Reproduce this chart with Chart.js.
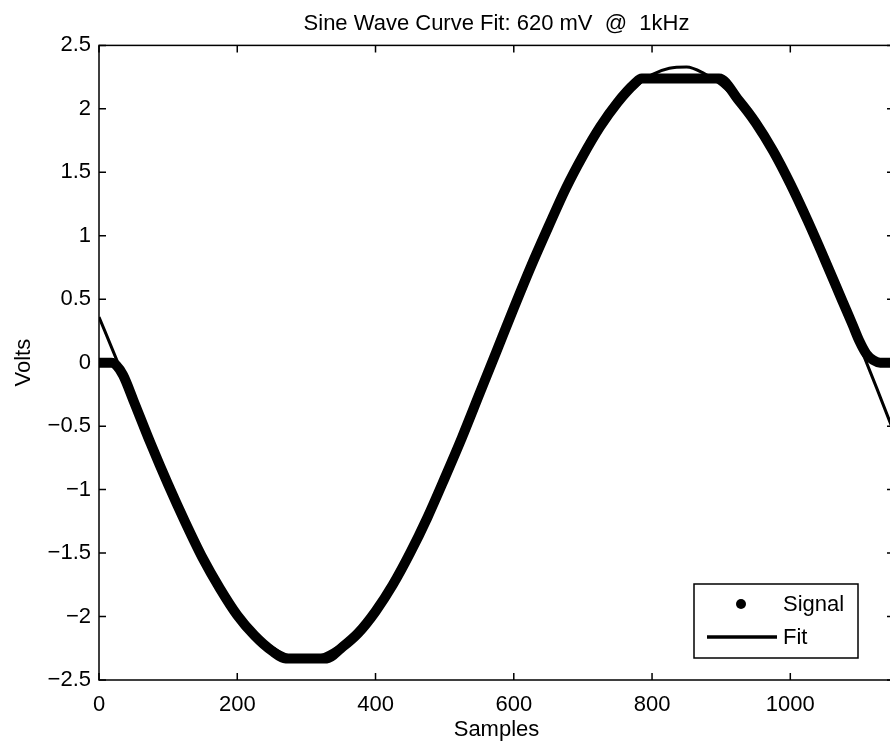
<!DOCTYPE html>
<html>
<head>
<meta charset="utf-8">
<script src="https://cdn.jsdelivr.net/npm/chart.js@4/dist/chart.umd.min.js"></script>
<style>
  html, body { margin: 0; padding: 0; background: #fff; overflow: hidden; }
</style>
</head>
<body>
<canvas id="myChart" width="900" height="746"></canvas>
<script>
	// signal samples
	var signalX = [0, 10, 18, 25, 35, 50, 75, 100, 125, 150, 175, 200, 225, 250, 270, 300, 330, 350, 375, 400,
		425, 450, 475, 500, 525, 550, 575, 600, 625, 650, 675, 700, 725, 750, 775, 785, 800, 825, 850, 875,
		897, 925, 950, 975, 1000, 1025, 1050, 1075, 1090, 1100, 1110, 1120, 1130, 1150];
	var signalY = [0, 0, 0, -0.02, -0.10, -0.30, -0.64, -0.96, -1.26, -1.54, -1.78, -1.99, -2.15, -2.27, -2.33, -2.33, -2.33, -2.25, -2.13, -1.96,
		-1.75, -1.50, -1.22, -0.91, -0.59, -0.25, 0.09, 0.43, 0.76, 1.07, 1.37, 1.63, 1.86, 2.05, 2.20, 2.24, 2.24, 2.24, 2.24, 2.24,
		2.24, 2.07, 1.89, 1.67, 1.41, 1.12, 0.81, 0.49, 0.30, 0.17, 0.07, 0.02, 0, 0];

	// fitted curve
	var fitX = [0, 25, 50, 75, 100, 125, 150, 175, 200, 225, 250, 275, 300, 325, 350, 375, 400, 425, 450, 475,
		500, 525, 550, 575, 600, 625, 650, 675, 700, 725, 750, 775, 800, 825, 850, 875, 900, 925, 950, 975,
		1000, 1025, 1050, 1075, 1100, 1125, 1150];
	var fitY = [0.36, 0.03, -0.31, -0.64, -0.96, -1.25, -1.53, -1.76, -1.97, -2.13, -2.24, -2.31, -2.33, -2.30, -2.22, -2.10, -1.93, -1.72, -1.48, -1.20,
		-0.90, -0.58, -0.25, 0.09, 0.42, 0.75, 1.06, 1.35, 1.61, 1.84, 2.02, 2.17, 2.27, 2.32, 2.33, 2.28, 2.19, 2.05, 1.87, 1.64,
		1.39, 1.10, 0.80, 0.47, 0.14, -0.20, -0.55];

	var xTicks = [0, 200, 400, 600, 800, 1000];
	var yTicks = [-2.5, -2, -1.5, -1, -0.5, 0, 0.5, 1, 1.5, 2, 2.5];

	function toPoints(xs, ys) {
		var pts = [];
		for (let i = 0; i < xs.length; i++) {
			pts.push({x: xs[i], y: ys[i]});
		}
		return pts;
	}

	Chart.defaults.font.family = '"Liberation Sans", Arial, Helvetica, sans-serif';
	Chart.defaults.font.size = 22;
	Chart.defaults.color = '#000';

	// MATLAB style box, inward ticks and the legend
	var matlabFrame = {
		id: 'matlabFrame',
		afterDraw(chart) {
			var ctx = chart.ctx;
			var a = chart.chartArea;
			var sx = chart.scales.x;
			var sy = chart.scales.y;
			var tl = 7;
			ctx.save();
			ctx.strokeStyle = '#000';
			ctx.lineWidth = 1.5;
			ctx.strokeRect(a.left, a.top, a.right - a.left, a.bottom - a.top);
			ctx.beginPath();
			xTicks.forEach(v => {
				var px = sx.getPixelForValue(v);
				ctx.moveTo(px, a.bottom); ctx.lineTo(px, a.bottom - tl);
				ctx.moveTo(px, a.top); ctx.lineTo(px, a.top + tl);
			});
			yTicks.forEach(v => {
				var py = sy.getPixelForValue(v);
				ctx.moveTo(a.left, py); ctx.lineTo(a.left + tl, py);
				ctx.moveTo(a.right, py); ctx.lineTo(a.right - tl, py);
			});
			ctx.stroke();

			// legend box
			var bw = 164, bh = 74;
			var bx = a.right - 36 - bw;
			var by = a.bottom - 22 - bh;
			ctx.fillStyle = '#fff';
			ctx.fillRect(bx, by, bw, bh);
			ctx.lineWidth = 1.5;
			ctx.strokeRect(bx, by, bw, bh);
			ctx.fillStyle = '#000';
			ctx.beginPath();
			ctx.arc(bx + 47, by + 20, 5, 0, Math.PI * 2);
			ctx.fill();
			ctx.lineWidth = 3.5;
			ctx.beginPath();
			ctx.moveTo(bx + 13, by + 53);
			ctx.lineTo(bx + 83, by + 53);
			ctx.stroke();
			ctx.font = '22px "Liberation Sans", Arial, sans-serif';
			ctx.textBaseline = 'middle';
			ctx.textAlign = 'left';
			ctx.fillText('Signal', bx + 89, by + 21);
			ctx.fillText('Fit', bx + 89, by + 54);
			ctx.restore();
		}
	};

	var data = {
		datasets: [{
			label: 'Signal',
			data: toPoints(signalX, signalY),
			borderColor: '#000',
			backgroundColor: '#000',
			borderWidth: 10,
			borderCapStyle: 'round',
			borderJoinStyle: 'round',
			pointRadius: 0,
			cubicInterpolationMode: 'monotone'
		},
		{
			label: 'Fit',
			data: toPoints(fitX, fitY),
			borderColor: '#000',
			backgroundColor: '#000',
			borderWidth: 3,
			pointRadius: 0,
			cubicInterpolationMode: 'monotone'
		}]
	};

	var config = {
		type: 'line',
		data: data,
		options: {
			responsive: false,
			animation: false,
			layout: { padding: { left: 0, right: 6, top: 0, bottom: 0 } },
			plugins: {
				legend: { display: false },
				tooltip: { enabled: false },
				title: {
					display: true,
					fullSize: false,
					text: 'Sine Wave Curve Fit: 620 mV  @  1kHz',
					color: '#000',
					font: { size: 22, weight: 'normal' },
					padding: { top: 11, bottom: 8 }
				}
			},
			scales: {
				x: {
					type: 'linear',
					min: 0,
					max: 1150,
					grid: { display: false, drawTicks: false },
					border: { display: false },
					afterBuildTicks: scale => { scale.ticks = xTicks.map(v => ({value: v})); },
					afterFit: scale => { scale.height = 66; },
					ticks: { padding: 12, maxRotation: 0, autoSkip: false, callback: v => String(v) },
					title: { display: true, text: 'Samples', padding: { top: 0, bottom: 3 } }
				},
				y: {
					min: -2.5,
					max: 2.5,
					grid: { display: false, drawTicks: false },
					border: { display: false },
					afterBuildTicks: scale => { scale.ticks = yTicks.map(v => ({value: v})); },
					afterFit: scale => { scale.width = 99; },
					ticks: {
						padding: 8,
						autoSkip: false,
						callback: v => String(v).replace('-', '\u2212')
					},
					title: { display: true, text: 'Volts', padding: { top: 11, bottom: 0 } }
				}
			}
		},
		plugins: [matlabFrame]
	};

	var myChart = new Chart(document.getElementById('myChart'), config);
</script>
</body>
</html>
